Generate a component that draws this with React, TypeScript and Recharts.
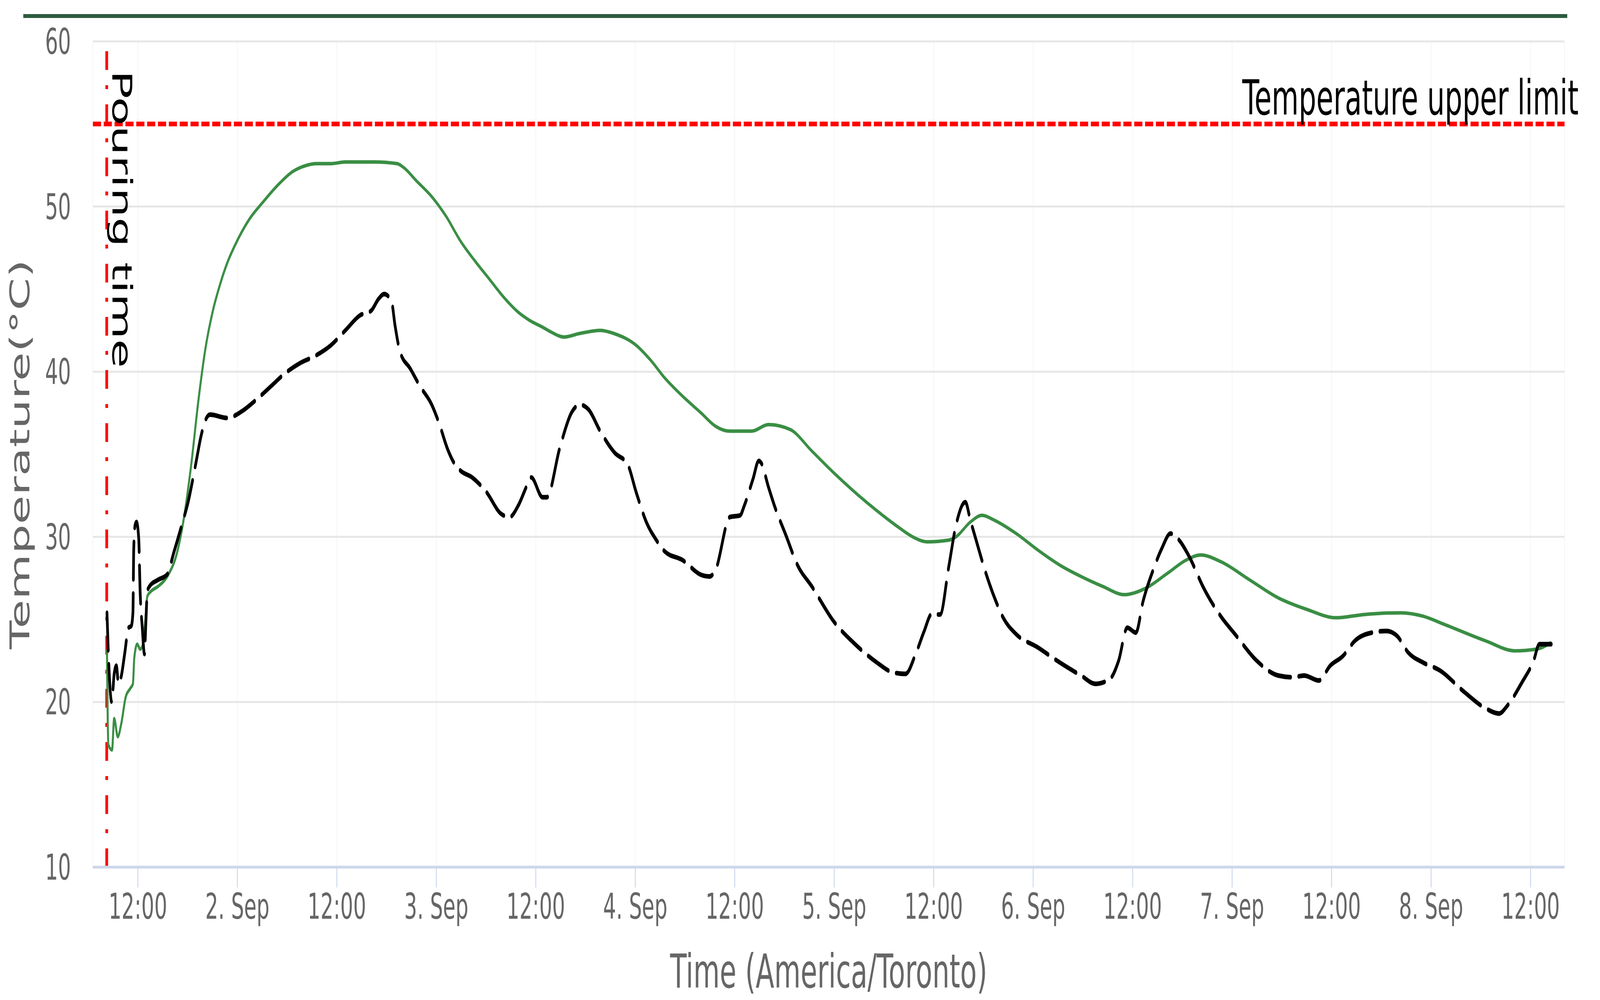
import React from 'react';
import { LineChart, Line, XAxis, YAxis, CartesianGrid, ReferenceLine } from 'recharts';

// Hours since 1 Sep 00:00 (America/Toronto)
const greenHours = [
  8.27, 8.44, 8.88, 9.14, 9.57, 10.0, 10.53, 11.05, 11.4, 11.57, 11.92, 12.27, 12.62, 12.88, 13.14, 13.57,
  14.44, 15.66, 16.7, 17.57, 18.44, 19.31, 20.18, 21.05, 21.92, 22.79, 23.66, 25.4, 27.14, 28.88, 30.62,
  32.36, 33.54, 35.28, 37.02, 40.5, 43.28, 43.97, 45.71, 47.45, 49.19, 50.93, 52.67, 54.41, 56.15, 57.89,
  59.28, 60.81, 61.85, 63.42, 65.16, 67.77, 69.5, 72.11, 73.85, 75.59, 77.33, 79.94, 81.68, 83.42, 86.03,
  88.08, 90.69, 93.3, 95.9, 98.5, 101.1, 103.7, 105.47, 107.2, 109.82, 110.69, 112.43, 113.82, 115.35,
  117.96, 120.57, 123.18, 125.78, 128.39, 131.0, 133.61, 136.22, 138.48, 140.22, 142.62, 146.1, 149.58,
  153.05, 156.53, 160.0, 164.3, 167.0, 169.6, 174.6, 178.1, 180.7, 182.5,
];
const greenTemps = [
  23.2, 17.4, 17.1, 19.0, 17.9, 18.7, 20.3, 20.8, 21.1, 22.7, 23.5, 23.2, 23.5, 24.8, 26.4, 26.7,
  27.0, 27.7, 29.0, 31.2, 34.4, 38.3, 41.5, 43.7, 45.3, 46.6, 47.6, 49.2, 50.3, 51.3, 52.1,
  52.5, 52.6, 52.6, 52.7, 52.7, 52.6, 52.4, 51.5, 50.6, 49.4, 47.9, 46.7, 45.6, 44.5, 43.6,
  43.1, 42.7, 42.4, 42.1, 42.3, 42.5, 42.3, 41.6, 40.7, 39.6, 38.7, 37.5, 36.7, 36.4, 36.4,
  36.8, 36.5, 35.2, 33.9, 32.7, 31.6, 30.6, 30.0, 29.7, 29.8, 30.0, 30.9, 31.3, 31.0,
  30.2, 29.2, 28.3, 27.6, 27.0, 26.5, 26.9, 27.8, 28.6, 28.9, 28.5, 27.4, 26.3,
  25.6, 25.1, 25.3, 25.4, 25.2, 24.7, 23.7, 23.1, 23.2, 23.6,
];
const blackHours = [
  8.27, 8.44, 8.84, 9.14, 9.4, 9.66, 10.01, 10.4, 10.88, 11.2, 11.4, 11.5, 11.66, 11.83, 12.1, 12.27,
  12.53, 12.79, 12.96, 13.14, 13.4, 14.44, 15.49, 16.36, 17.23, 18.1, 18.97, 19.66, 20.18, 20.71, 22.79,
  24.53, 26.27, 28.01, 29.75, 31.49, 33.54, 35.28, 37.02, 38.76, 40.15, 41.02, 41.71, 42.58, 43.02, 43.63,
  44.84, 46.06, 47.45, 48.32, 49.37, 50.23, 50.93, 52.32, 54.06, 55.8, 56.84, 57.89, 58.93, 59.45, 60.81,
  61.33, 62.9, 64.29, 65.33, 66.38, 67.77, 69.5, 71.07, 72.11, 73.33, 74.55, 75.59, 77.68, 79.94, 80.98,
  81.68, 83.42, 84.64, 85.16, 86.2, 86.9, 87.16, 88.08, 88.78, 90.17, 91.56, 93.3, 95.91, 98.52, 101.12,
  103.04, 104.6, 105.82, 106.86, 107.73, 108.78, 109.82, 110.69, 111.82, 112.43, 113.12, 114.17, 115.35,
  116.39, 117.96, 120.57, 123.18, 125.78, 127.52, 129.26, 130.31, 131.35, 132.39, 133.26, 134.48, 135.52,
  136.57, 137.61, 138.83, 140.57, 142.62, 144.36, 146.97, 149.58, 151.32, 152.71, 154.45, 155.84, 157.4,
  158.8, 160.88, 162.6, 163.9, 165.23, 167.0, 169.1, 172.02, 174.63, 176.2, 177.24, 178.98, 180.37,
  181.07, 182.5,
];
const blackTemps = [
  25.4, 22.9, 20.0, 21.7, 22.2, 21.1, 21.6, 22.9, 24.5, 24.6, 25.4, 29.3, 30.7, 30.9, 29.9, 26.7,
  24.5, 22.9, 24.8, 26.7, 27.0, 27.4, 27.7, 29.1, 30.6, 32.2, 34.4, 36.2, 37.1, 37.4, 37.2,
  37.6, 38.3, 39.1, 39.9, 40.5, 41.0, 41.6, 42.5, 43.4, 43.7, 44.4, 44.7, 44.3, 42.8, 41.2,
  40.2, 39.1, 38.0, 36.9, 35.3, 34.4, 34.0, 33.6, 32.7, 31.4, 31.2, 31.9, 33.1, 33.6, 32.4,
  32.4, 35.4, 37.5, 38.0, 37.7, 36.4, 35.1, 34.4, 32.7, 30.9, 29.8, 29.1, 28.6, 27.7, 27.6,
  28.0, 31.2, 31.3, 31.9, 33.5, 34.6, 34.5, 33.0, 31.9, 30.1, 28.3, 27.0, 24.9, 23.5, 22.4,
  21.8, 21.7, 22.9, 24.3, 25.3, 25.3, 28.2, 30.7, 32.1, 31.0, 29.8, 28.0, 26.3,
  25.1, 24.1, 23.3, 22.4, 21.6, 21.1, 21.4, 22.5, 24.5, 24.2, 26.1, 28.0, 29.3,
  30.2, 29.8, 28.8, 26.9, 25.2, 24.1, 22.5, 21.6, 21.5, 21.6, 21.3, 22.2, 22.8,
  23.7, 24.2, 24.3, 24.0, 23.0, 22.4, 21.9, 20.6, 19.6, 19.3, 19.8, 21.2, 22.5,
  23.5, 23.5,
];

const xTicks = [12, 24, 36, 48, 60, 72, 84, 96, 108, 120, 132, 144, 156, 168, 180];
const xTickLabels = [
  '12:00', '2. Sep', '12:00', '3. Sep', '12:00', '4. Sep', '12:00', '5. Sep',
  '12:00', '6. Sep', '12:00', '7. Sep', '12:00', '8. Sep', '12:00',
];
const yTicks = [10, 20, 30, 40, 50, 60];
const xDomain = [6.57, 184.1];
const pouringHour = 8.24;
const upperLimit = 55;

const greenData = greenHours.map((h, i) => ({ h, t: greenTemps[i] }));
const blackData = blackHours.map((h, i) => ({ h, t: blackTemps[i] }));

const FONT = "'DejaVu Sans', sans-serif";
const W = 7080;
const H = 2559;

const UpperLimitLabel = (props: any) => {
  const vb = props.viewBox || {};
  return (
    <text x={vb.x + vb.width + 62} y={vb.y - 24} textAnchor="end" fontSize={123} fontFamily={FONT} fill="#000">
      Temperature upper limit
    </text>
  );
};

const PouringLabel = (props: any) => {
  const vb = props.viewBox || {};
  return (
    <text transform={`translate(${vb.x + 25},${vb.y + 74}) rotate(90)`} fontSize={120} fontFamily={FONT} fill="#000">
      Pouring time
    </text>
  );
};

const YTitle = (props: any) => {
  const vb = props.viewBox || {};
  const cx = vb.x + 19;
  const cy = vb.y + vb.height / 2;
  return (
    <text x={cx} y={cy} transform={`rotate(-90, ${cx}, ${cy})`} textAnchor="middle" fontSize={120} fontFamily={FONT} fill="#666666">
      Temperature(°C)
    </text>
  );
};

const XTitle = (props: any) => {
  const vb = props.viewBox || {};
  return (
    <text x={vb.x + vb.width / 2} y={vb.y + 308} textAnchor="middle" fontSize={120} fontFamily={FONT} fill="#666666">
      Time (America/Toronto)
    </text>
  );
};

export default function App() {
  // The browser window may be narrower than the 7080 px design; fit the chart into it.
  const vw = typeof window !== 'undefined' ? window.innerWidth : W;
  const vh = typeof window !== 'undefined' ? window.innerHeight : H;
  const sx = Math.min(1, vw / W);
  const sy = Math.min(1, vh / H);
  return (
    <div style={{ position: 'fixed', left: 0, top: 0, width: vw, height: vh, overflow: 'hidden', background: '#ffffff' }}>
      <div
        style={{
          position: 'absolute',
          left: 0,
          top: 0,
          width: W,
          height: H,
          background: '#ffffff',
          transform: `scale(${sx}, ${sy})`,
          transformOrigin: '0 0',
        }}
      >
        <div style={{ position: 'absolute', left: 103, top: 36, width: 6832, height: 10, background: '#2d5b3e' }} />
        <LineChart width={W} height={H} margin={{ top: 106, right: 157, bottom: 140, left: 111 }}>
          <CartesianGrid horizontal={false} stroke="#f4f4f4" strokeWidth={3} />
          <CartesianGrid vertical={false} stroke="#e6e6e6" strokeWidth={5} />
          <XAxis
            dataKey="h"
            type="number"
            domain={xDomain}
            allowDataOverflow
            ticks={xTicks}
            interval={0}
            tickFormatter={(v: number) => xTickLabels[xTicks.indexOf(v)] ?? ''}
            height={200}
            axisLine={{ stroke: '#ccd6eb', strokeWidth: 7 }}
            tickLine={{ stroke: '#ccd6eb', strokeWidth: 4 }}
            tickSize={52}
            tickMargin={16}
            tick={{ fill: '#666666', fontSize: 90, fontFamily: FONT }}
            label={<XTitle />}
          />
          <YAxis
            type="number"
            domain={[10, 60]}
            ticks={yTicks}
            interval={0}
            width={300}
            axisLine={false}
            tickLine={false}
            tickSize={0}
            tickMargin={97}
            tick={{ fill: '#666666', fontSize: 90, fontFamily: FONT }}
            label={<YTitle />}
          />
          <ReferenceLine
            y={upperLimit}
            stroke="#ff0000"
            strokeWidth={12}
            strokeDasharray="36 12"
            label={<UpperLimitLabel />}
          />
          <ReferenceLine
            x={pouringHour}
            stroke="#ff0000"
            strokeWidth={12}
            strokeDasharray="48 39 10 39"
            label={<PouringLabel />}
          />
          <Line
            data={greenData}
            dataKey="t"
            name="Sensor 1"
            type="monotone"
            stroke="#3a8e44"
            strokeWidth={9}
            dot={false}
            activeDot={false}
            isAnimationActive={false}
          />
          <Line
            data={blackData}
            dataKey="t"
            name="Sensor 2"
            type="monotone"
            stroke="#000000"
            strokeWidth={12}
            strokeDasharray="96 36"
            strokeLinecap="round"
            dot={false}
            activeDot={false}
            isAnimationActive={false}
          />
        </LineChart>
      </div>
    </div>
  );
}
